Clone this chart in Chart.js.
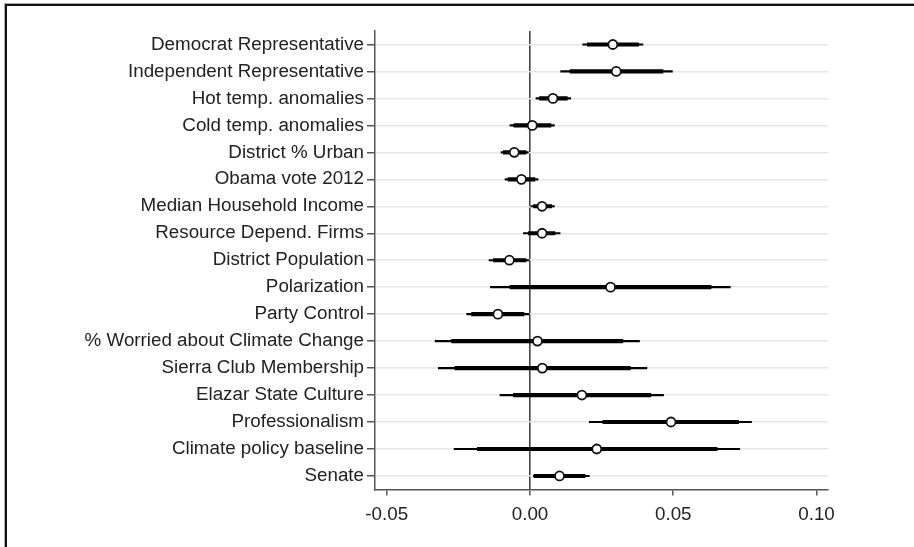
<!DOCTYPE html>
<html>
<head>
<meta charset="utf-8">
<script src="https://cdn.jsdelivr.net/npm/chart.js@4"></script>
<style>
  html, body { margin: 0; padding: 0; background: #fff; }
  #wrap { position: relative; width: 914px; height: 547px; overflow: hidden; }
  #frame { position: absolute; left: 5px; top: 4px; width: 1000px; height: 1000px;
           border-left: 2px solid #111; border-top: 2px solid #111; box-shadow: -1px -1px 0 #aaa; }
  canvas { position: absolute; left: 0; top: 0; }
</style>
</head>
<body>
<div id="wrap">
  <div id="frame"></div>
  <canvas id="chart" width="914" height="547"></canvas>
</div>
<script>
"use strict"
// coefficient estimates with 90% (thick) and 95% (thin) intervals
const labels = [
    "Democrat Representative",
    "Independent Representative",
    "Hot temp. anomalies",
    "Cold temp. anomalies",
    "District % Urban",
    "Obama vote 2012",
    "Median Household Income",
    "Resource Depend. Firms",
    "District Population",
    "Polarization",
    "Party Control",
    "% Worried about Climate Change",
    "Sierra Club Membership",
    "Elazar State Culture",
    "Professionalism",
    "Climate policy baseline",
    "Senate"
];
const estimates = [0.0289, 0.0301, 0.0080, 0.0008, -0.0055, -0.0030, 0.0042, 0.0042, -0.0072, 0.0281,
                   -0.0112, 0.0026, 0.0043, 0.0181, 0.0492, 0.0233, 0.0103];
const lo90 = [0.0200, 0.0140, 0.0033, -0.0056, -0.0093, -0.0076, 0.0012, -0.0006, -0.0128, -0.0070,
              -0.0204, -0.0274, -0.0262, -0.0058, 0.0254, -0.0184, 0.0014];
const hi90 = [0.0379, 0.0464, 0.0130, 0.0073, -0.0014, 0.0017, 0.0076, 0.0087, -0.0014, 0.0632,
              -0.0021, 0.0324, 0.0350, 0.0422, 0.0728, 0.0653, 0.0192];
const lo95 = [0.0184, 0.0107, 0.0021, -0.0070, -0.0101, -0.0087, 0.0003, -0.0023, -0.0143, -0.0138,
              -0.0221, -0.0331, -0.0320, -0.0105, 0.0207, -0.0265, 0.0012];
const hi95 = [0.0394, 0.0497, 0.0142, 0.0085, -0.0006, 0.0028, 0.0085, 0.0105, -0.0003, 0.0699,
              0.0000, 0.0382, 0.0408, 0.0466, 0.0773, 0.0732, 0.0207];
const xTicks = [-0.05, 0.00, 0.05, 0.10];

const font = {family: "'Liberation Sans', Arial, sans-serif", size: 18.8};

let thin = lo95.map((v, i) => [v, hi95[i]]);
let thick = lo90.map((v, i) => [v, hi90[i]]);

const ctx = document.getElementById("chart");
new Chart(ctx, {
    type: 'bar',
    data: {
        labels: labels,
        datasets: [
            {
                type: 'line',
                indexAxis: 'y',
                data: estimates,
                showLine: false,
                pointRadius: 4.5,
                pointBorderWidth: 1.8,
                pointBackgroundColor: '#fff',
                pointBorderColor: '#111',
                order: 0
            },
            {
                data: thick,
                backgroundColor: '#000',
                barThickness: 3.5,
                grouped: false,
                order: 1
            },
            {
                data: thin,
                backgroundColor: '#000',
                barThickness: 1.5,
                grouped: false,
                order: 2
            }
        ]
    },
    options: {
        indexAxis: 'y',
        responsive: false,
        animation: false,
        layout: {padding: {left: 0, right: 86, top: 31, bottom: 13}},
        plugins: {legend: {display: false}, tooltip: {enabled: false}},
        scales: {
            x: {
                type: 'linear',
                min: -0.0541,
                max: 0.1040,
                afterBuildTicks: s => { s.ticks = xTicks.map(v => ({value: v})); },
                ticks: {
                    font: font,
                    color: '#222',
                    padding: 8,
                    callback: v => v.toFixed(2)
                },
                grid: {
                    color: c => (c.tick && Math.abs(c.tick.value) < 1e-9) ? '#444' : 'rgba(0,0,0,0)',
                    lineWidth: 1.6,
                    tickColor: '#555',
                    tickWidth: 1.5,
                    tickLength: 6
                },
                border: {color: '#555', width: 1.5}
            },
            y: {
                type: 'category',
                offset: true,
                afterFit: s => { s.width = 375; },
                ticks: {font: font, color: '#222', padding: 3},
                grid: {
                    offset: false,
                    color: '#e6e6e6',
                    lineWidth: 1.5,
                    tickColor: '#555',
                    tickWidth: 1.5,
                    tickLength: 8
                },
                border: {color: '#555', width: 1.5}
            }
        }
    }
});
</script>
</body>
</html>
